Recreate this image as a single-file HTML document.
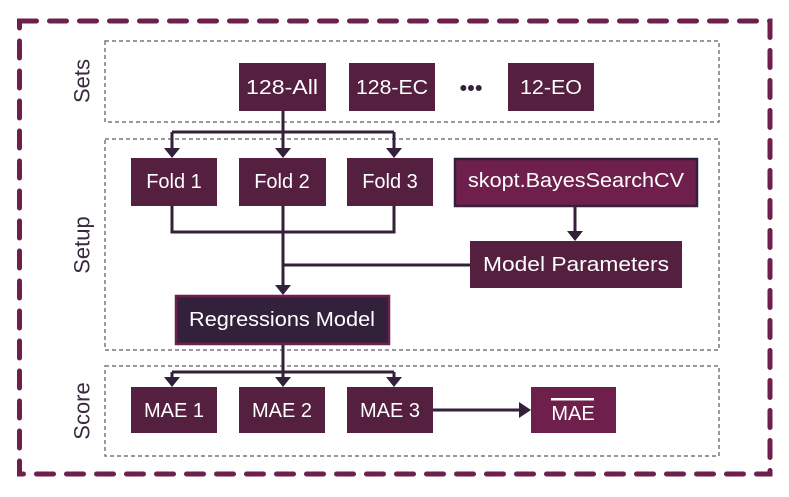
<!DOCTYPE html>
<html><head><meta charset="utf-8"><style>
html,body{margin:0;padding:0;background:#fff;}
svg{display:block;}
text{font-family:"Liberation Sans",sans-serif;}
.bt{fill:#fff;font-size:20px;text-anchor:middle;dominant-baseline:central;}
.lb{fill:#3a2a40;font-size:22px;text-anchor:middle;dominant-baseline:central;}
.c{stroke:#33203a;stroke-width:3;fill:none;}
</style></head><body>
<svg width="789" height="497" viewBox="0 0 789 497">
<rect x="19.5" y="21" width="750.5" height="453" fill="none" stroke="#6e1f4b" stroke-width="5" stroke-dasharray="17,13" stroke-linecap="round"/>
<g fill="none" stroke="#7a7480" stroke-width="1.5" stroke-dasharray="4,3">
<rect x="105" y="41" width="614" height="81"/>
<rect x="105" y="139" width="614" height="211"/>
<rect x="105" y="366" width="614" height="90"/>
</g>
<text class="lb" transform="translate(82,81) rotate(-90)">Sets</text>
<text class="lb" transform="translate(82,245) rotate(-90)">Setup</text>
<text class="lb" transform="translate(82,411) rotate(-90)">Score</text>
<path class="c" d="M283,111 V146 M172,132 H394 M172,132 V150 M283,132 V150 M394,132 V150"/>
<path d="M164,148 h16 l-8,10z M275,148 h16 l-8,10z M386,148 h16 l-8,10z" fill="#33203a"/>
<path class="c" d="M172,206 V232 H394 V206 M283,206 V287 M283,265 H470 M575,207 V233"/>
<path d="M275,285 h16 l-8,10z M567,231 h16 l-8,10z" fill="#33203a"/>
<path class="c" d="M283,345 V380 M172,372 H394 M172,372 V379 M394,372 V379"/>
<path d="M164,377 h16 l-8,10z M275,377 h16 l-8,10z M386,377 h16 l-8,10z" fill="#33203a"/>
<path class="c" d="M432,410 H521"/>
<path d="M519,402 v16 l12,-8z" fill="#33203a"/>
<g fill="#55203f">
<rect x="239" y="63" width="87" height="48"/>
<rect x="349" y="63" width="86" height="48"/>
<rect x="508" y="63" width="86" height="48"/>
<rect x="131" y="158" width="86" height="48"/>
<rect x="239" y="158" width="87" height="48"/>
<rect x="347" y="158" width="86" height="48"/>
<rect x="470" y="241" width="212" height="47"/>
<rect x="131" y="387" width="86" height="46"/>
<rect x="239" y="387" width="86" height="46"/>
<rect x="347" y="387" width="86" height="46"/>
</g>
<rect x="455" y="159" width="242" height="47" fill="#6e1f4b" stroke="#33203a" stroke-width="2.5"/>
<rect x="176" y="296" width="213" height="48" fill="#33203a" stroke="#6e1f4b" stroke-width="2.5"/>
<rect x="531" y="387" width="85" height="46" fill="#6e1f4b"/>
<text class="bt" x="282" y="88" textLength="72" lengthAdjust="spacingAndGlyphs">128-All</text>
<text class="bt" x="392" y="88" textLength="72" lengthAdjust="spacingAndGlyphs">128-EC</text>
<text x="471" y="88" fill="#33203a" font-size="22" text-anchor="middle" dominant-baseline="central">•••</text>
<text class="bt" x="551" y="88" textLength="62" lengthAdjust="spacingAndGlyphs">12-EO</text>
<text class="bt" x="174" y="182">Fold 1</text>
<text class="bt" x="282" y="182">Fold 2</text>
<text class="bt" x="390" y="182">Fold 3</text>
<text class="bt" x="576" y="181" textLength="216" lengthAdjust="spacingAndGlyphs">skopt.BayesSearchCV</text>
<text class="bt" x="576" y="265" textLength="186" lengthAdjust="spacingAndGlyphs">Model Parameters</text>
<text class="bt" x="282" y="320" textLength="186" lengthAdjust="spacingAndGlyphs">Regressions Model</text>
<text class="bt" x="174" y="411">MAE 1</text>
<text class="bt" x="282" y="411">MAE 2</text>
<text class="bt" x="390" y="411">MAE 3</text>
<text class="bt" x="573" y="414">MAE</text>
<rect x="551" y="398" width="43" height="2.5" fill="#fff"/>
</svg>
</body></html>
